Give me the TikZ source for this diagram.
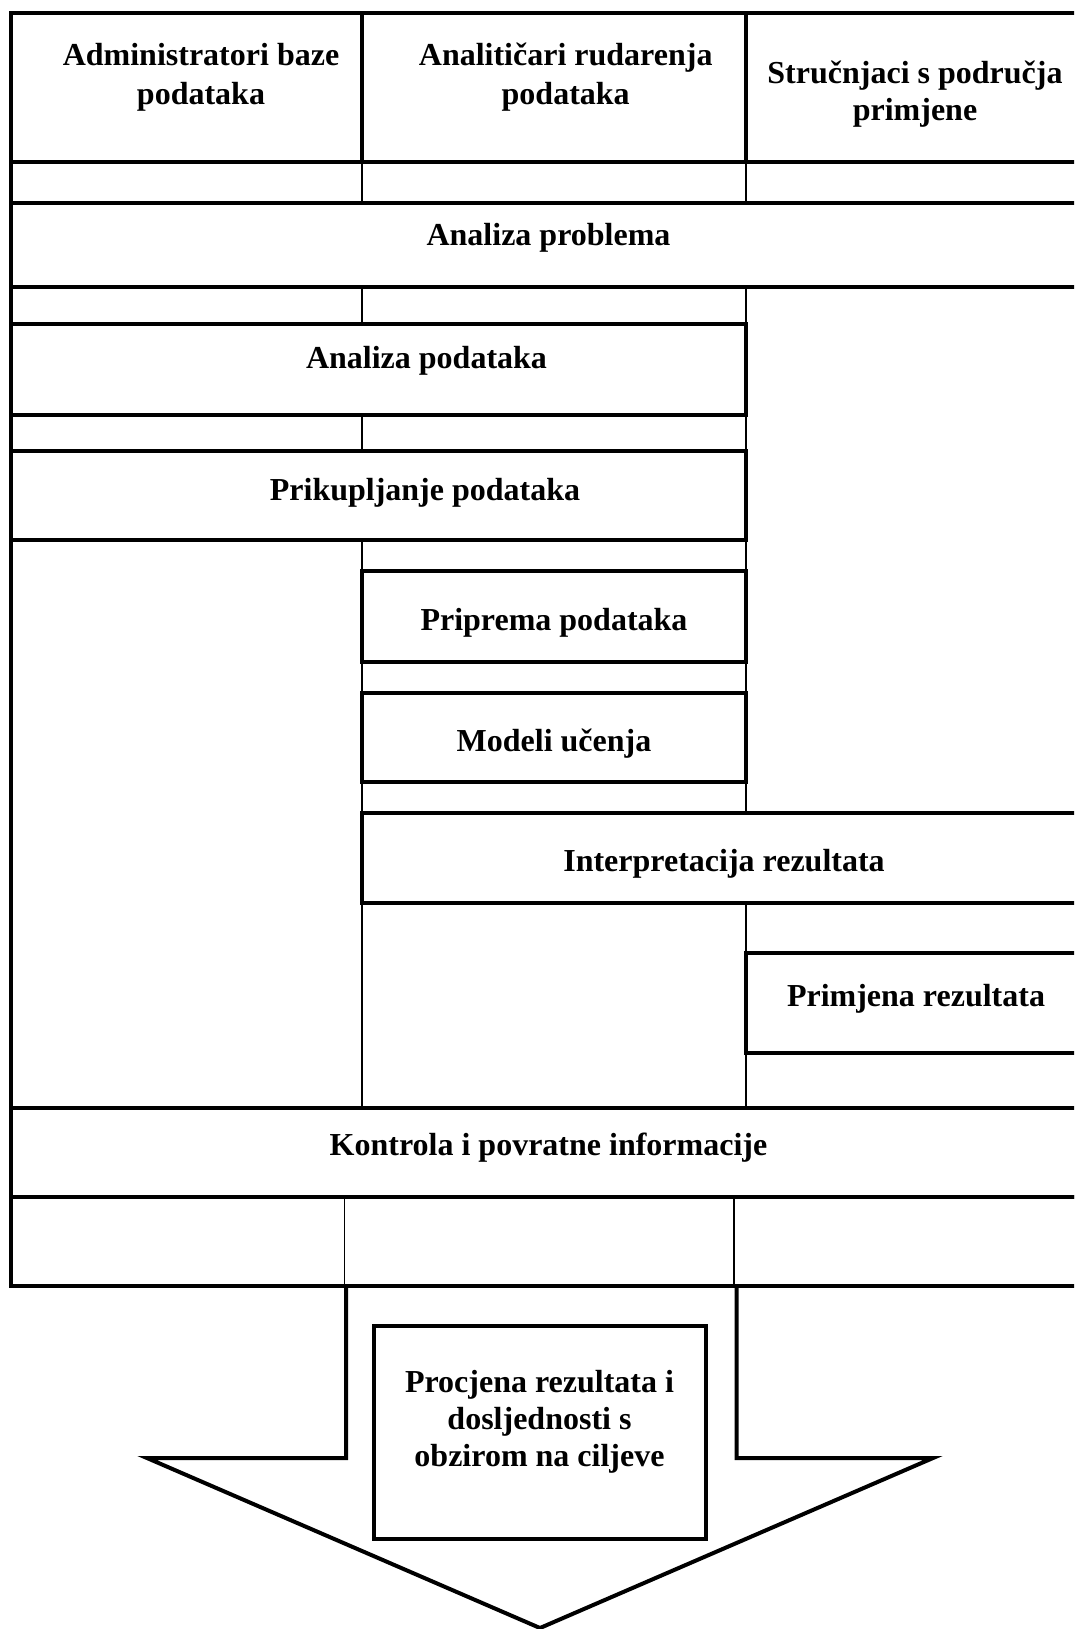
\documentclass[tikz,border=0pt]{standalone}
\usepackage{fontspec}
\setmainfont{Liberation Serif}
\usetikzlibrary{positioning}

\begin{document}
\begin{tikzpicture}[
    x=1pt, y=-1pt,
    % --- node styles ---
    lanehead/.style={
      rectangle, draw=black, line width=4pt, outer sep=0pt, inner sep=0pt,
      minimum height=149.5pt, anchor=north west},
    task/.style={
      rectangle, draw=black, fill=white, line width=4pt, outer sep=0pt,
      inner sep=0pt, anchor=north west},
    txt/.style={inner sep=0pt, align=center,
      font=\fontsize{32}{37}\selectfont\bfseries},
    headtxt/.style={txt, font=\fontsize{32}{39}\selectfont\bfseries},
    lane/.style={draw=black, line width=1.3pt},
    frame/.style={draw=black, line width=4pt, line join=miter},
  ]

  % ============== PAGE ==============
  \useasboundingbox (0,0) rectangle (1074,1629);
  \clip (0,0) rectangle (1074,1629);

  % ============== LANE HEADERS ==============
  \node[lanehead, minimum width=351pt] (hdba) at (11,13) {};
  \node[lanehead, minimum width=384pt, right=0pt of hdba.north east, anchor=north west] (hdm) {};
  \node[lanehead, minimum width=340pt, right=0pt of hdm.north east, anchor=north west] (hexp) {};

  \node[headtxt] (hdbatxt) at ([xshift=14.5pt, yshift=10.5pt]hdba.center) {Administratori baze\\podataka};
  \node[headtxt] (hdmtxt)  at ([xshift=11.7pt, yshift=10.5pt]hdm.center) {Analitičari rudarenja\\podataka};
  \node[txt]     (hexptxt) at ([xshift=-1pt, yshift=-6.7pt]hexp.center) {Stručnjaci s područja\\primjene};

  % ============== LANE LINES ==============
  \draw[lane] (hdba.south east) -- (hdba.south east |- 0,1107.5);
  \draw[lane] (hdm.south east)  -- (hdm.south east |- 0,1107.5);

  % ============== PHASES ==============
  \node[task, minimum width=1075pt, minimum height=83.5pt,
        below=41pt of hdba.south west, anchor=north west] (aprob) {};
  \node[task, minimum width=735pt, minimum height=91.5pt,
        below=36.5pt of aprob.south west, anchor=north west] (apod) {};
  \node[task, minimum width=735pt, minimum height=89pt,
        below=36pt of apod.south west, anchor=north west] (prik) {};

  \node[task, minimum width=384pt, minimum height=91pt] (prip) at (362,571) {};
  \node[task, minimum width=384pt, minimum height=89pt,
        below=31pt of prip.south west, anchor=north west] (model) {};
  \node[task, minimum width=724pt, minimum height=90pt,
        below=31pt of model.south west, anchor=north west] (interp) {};

  \node[task, minimum width=340pt, minimum height=100pt] (primj) at (746,953) {};
  \node[task, minimum width=1075pt, minimum height=89.5pt] (kontr) at (11,1107.5) {};

  % phase texts
  \node[txt] (aprobtxt)  at ([yshift=7.5pt]aprob.center) {Analiza problema};
  \node[txt] (apodtxt)   at ([xshift=48pt, yshift=8.75pt]apod.center) {Analiza podataka};
  \node[txt] (priktxt)   at ([xshift=46.5pt, yshift=3pt]prik.center) {Prikupljanje podataka};
  \node[txt] (priptxt)   at ([yshift=-6pt]prip.center) {Priprema podataka};
  \node[txt] (modeltxt)  at ([yshift=-6pt]model.center) {Modeli učenja};
  \node[txt] (interptxt) at ([yshift=-5.7pt]interp.center) {Interpretacija rezultata};
  \node[txt] (primjtxt)  at ([yshift=4.3pt]primj.center) {Primjena rezultata};
  \node[txt] (kontrtxt)  at ([yshift=4.6pt]kontr.center) {Kontrola i povratne informacije};

  % ============== BOTTOM ROW ==============
  \node[task, minimum width=1075pt, minimum height=89pt,
        below=0pt of kontr.south west, anchor=north west] (botrow) {};
  \draw[lane] ([xshift=333.5pt]botrow.north west) -- ([xshift=333.5pt]botrow.south west);
  \draw[lane] ([xshift=723pt]botrow.north west) -- ([xshift=723pt]botrow.south west);

  % left border of the lanes
  \draw[frame] (hdba.south west) -- (kontr.north west);

  % ============== RESULT ARROW ==============
  \draw[frame] (346,1286) -- (346,1458) -- (147,1458) -- (540,1628)
    -- (933,1458) -- (736.5,1458) -- (736.5,1286);

  \node[task, minimum width=332pt, minimum height=213pt] (procj) at (373.5,1326) {};
  \node[txt] (procjtxt) at ([yshift=11pt]procj.center)
    {Procjena rezultata i\\dosljednosti s\\obzirom na ciljeve};

\end{tikzpicture}
\end{document}
